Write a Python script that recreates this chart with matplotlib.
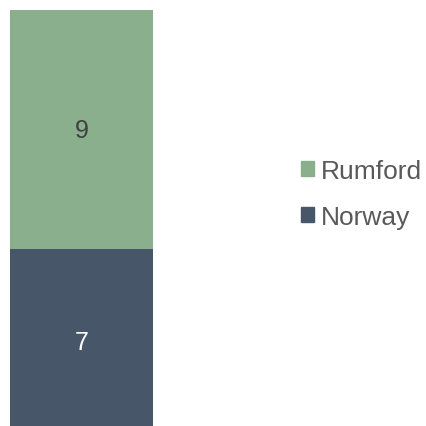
import matplotlib.pyplot as plt
from matplotlib.patches import Patch

plt.rcParams['font.family'] = ['Liberation Sans', 'DejaVu Sans']

series = ['Norway', 'Rumford']
values = [7, 9]
colors = ['#475769', '#8AAF8D']
label_colors = ['white', '#404040']

fig = plt.figure(figsize=(4.26, 4.27), dpi=100)
ax = fig.add_axes([10 / 426, 0, 143 / 426, 416 / 427])

bottom = 0
for name, v, c, lc in zip(series, values, colors, label_colors):
    ax.bar(0, v, width=1, bottom=bottom, color=c)
    ax.text(0, bottom + v / 2, str(v), ha='center', va='center',
            fontsize=18, color=lc)
    bottom += v

ax.set_xlim(-0.5, 0.5)
ax.set_ylim(0.34, sum(values))
ax.axis('off')

handles = [Patch(color=c, label=n) for n, c in zip(series, colors)][::-1]
fig.legend(handles=handles, loc='center left',
           bbox_to_anchor=(301 / 426, 1 - 195 / 427), frameon=False,
           fontsize=19, labelcolor='#595959', handlelength=0.5,
           handleheight=0.5, handletextpad=0.27, labelspacing=0.85,
           borderpad=0, borderaxespad=0)

fig.savefig('out.png', dpi=100)
